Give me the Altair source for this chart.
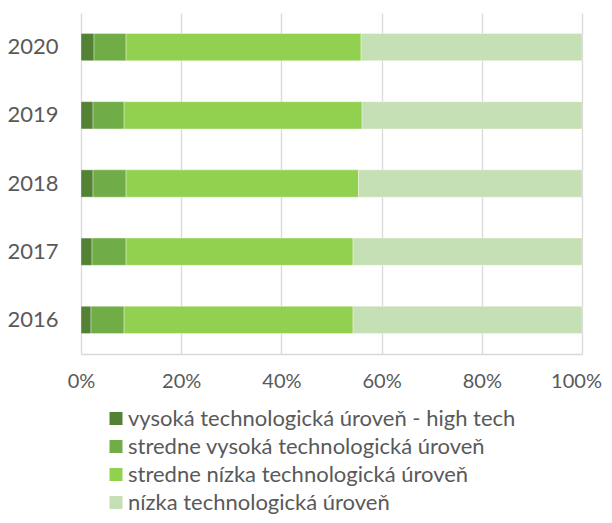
import altair as alt
import pandas as pd

years = ["2020", "2019", "2018", "2017", "2016"]
series = [
    "vysoká technologická úroveň - high tech",
    "stredne vysoká technologická úroveň",
    "stredne nízka technologická úroveň",
    "nízka technologická úroveň",
]
high_tech = [2.6, 2.4, 2.4, 2.2, 2.0]
medium_high = [6.4, 6.2, 6.6, 6.8, 6.6]
medium_low = [46.9, 47.5, 46.4, 45.3, 45.7]
low = [44.1, 43.9, 44.6, 45.7, 45.7]
colors = ["#548235", "#70AD47", "#92D050", "#C5E0B4"]

rows = []
for i, y in enumerate(years):
    for k, (s, vals) in enumerate(zip(series, [high_tech, medium_high, medium_low, low])):
        rows.append({"year": y, "series": s, "order": k, "value": vals[i]})
df = pd.DataFrame(rows)

FONT = "Lato"
chart = (
    alt.Chart(df)
    .mark_bar(stroke="white", strokeWidth=0.6, strokeOpacity=0.6)
    .encode(
        y=alt.Y(
            "year:N",
            sort=years,
            title=None,
            scale=alt.Scale(paddingInner=0.6, paddingOuter=0.3),
            axis=alt.Axis(
                ticks=False, domain=False, labelPadding=23, labelFontSize=22,
                labelColor="#595959", labelFont=FONT,
            ),
        ),
        x=alt.X(
            "value:Q",
            stack="normalize",
            title=None,
            scale=alt.Scale(domain=[0, 1], nice=False),
            axis=alt.Axis(
                format="%", values=[0, 0.2, 0.4, 0.6, 0.8, 1.0], ticks=False,
                grid=True, gridColor="#D9D9D9", gridWidth=1.3,
                domainColor="#D9D9D9", domainWidth=1.3,
                labelPadding=17, labelFontSize=20, labelColor="#595959", labelFont=FONT,
                labelFlush=False,
                labelOffset={"condition": {"test": "datum.value === 1", "value": -6}, "value": 0},
            ),
        ),
        color=alt.Color(
            "series:N",
            scale=alt.Scale(domain=series, range=colors),
            legend=alt.Legend(
                title=None, orient="none", legendX=24, legendY=394.5, padding=0,
                symbolType="square", symbolSize=169, symbolStrokeWidth=0,
                labelFontSize=22, labelColor="#595959", labelFont=FONT,
                labelOffset=1, labelLimit=700, rowPadding=6,
            ),
        ),
        order=alt.Order("order:Q"),
    )
    .properties(
        width=501, height=341,
        autosize=alt.AutoSizeParams(type="none"),
        padding={"left": 73, "top": 5, "right": 22, "bottom": 161},
    )
    .configure_view(stroke=None)
)

chart.save("out.html", embed_options={"renderer": "svg", "actions": False})
